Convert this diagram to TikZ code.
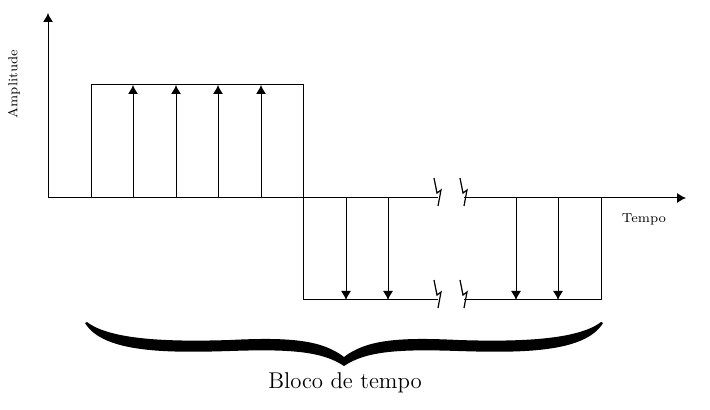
\documentclass[tikz,border=0pt]{standalone}
\usepackage{tikz}
\usetikzlibrary{
    arrows.meta,
    positioning
}

\tikzset{
    tip/.style={-{Latex[length=4.5pt,width=5pt]}},
    brk/.pic={\draw[line width=0.6pt] (-4,-20) -- (-1,-5) -- (3,-8) -- (0,8);}
}

\begin{document}
\begin{tikzpicture}[x=0.5pt, y=-0.5pt, line width=0.5pt]
    \useasboundingbox (0,0) rectangle (710,410);

    % axes
    \coordinate (o) at (48,198);
    \coordinate (ytop) at (48,13);
    \coordinate (xa) at (438,198);
    \coordinate (xb) at (464,198);
    \coordinate (xend) at (686,198);
    \draw[tip] (o) -- (ytop);
    \draw (o) -- (xa);
    \draw[tip] (xb) -- (xend);

    \node[rotate=90, font=\fontsize{6.5}{8}\selectfont] (amp) at (14,84) {Amplitude};
    \node[font=\fontsize{6.5}{8}\selectfont] (tempo) at (644,219) {Tempo};

    % positive block
    \draw (91,198) -- (91,85) -- (303,85) -- (303,198);
    \foreach \x in {133,176,218,261} {
        \coordinate (u\x) at (\x,198);
        \coordinate (v\x) at (\x,85);
        \draw[tip] (u\x) -- (v\x);
    }

    % negative block
    \coordinate (la) at (438,300);
    \coordinate (lb) at (464,300);
    \draw (303,198) -- (303,300) -- (la);
    \draw (lb) -- (601,300) -- (601,198);
    \foreach \x in {346,388,516,558} {
        \coordinate (d\x) at (\x,198);
        \coordinate (e\x) at (\x,300);
        \draw[tip] (d\x) -- (e\x);
    }

    % breaks
    \pic at (xa) {brk};
    \pic at (xb) {brk};
    \pic at (la) {brk};
    \pic at (lb) {brk};

    % brace
    \fill (87,322) .. controls (110,340) and (170,342) .. (230,340)
        .. controls (290,337) and (322,340) .. (344,357)
        .. controls (366,340) and (398,337) .. (458,340)
        .. controls (518,342) and (578,340) .. (601,322)
        -- (603,323)
        .. controls (585,353) and (520,353) .. (458,351)
        .. controls (400,349) and (366,351) .. (344,366)
        .. controls (322,351) and (288,349) .. (230,351)
        .. controls (168,353) and (103,353) .. (85,323) -- cycle;
    \node[font=\fontsize{11.4}{13}\selectfont] (bloco) at (345,383) {Bloco de tempo};
\end{tikzpicture}
\end{document}
